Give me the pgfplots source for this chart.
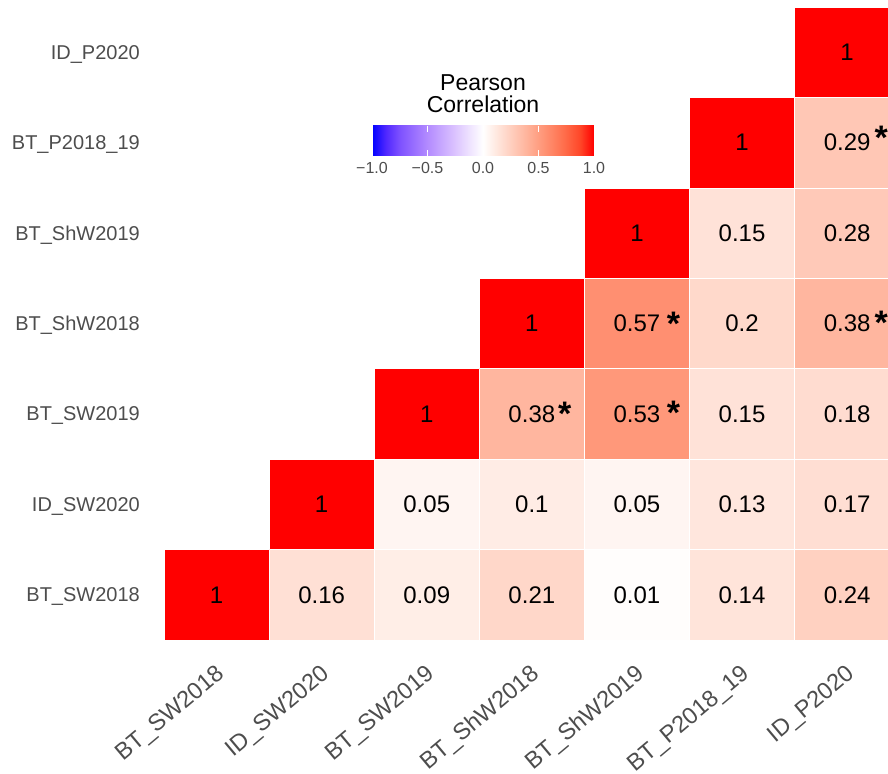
\documentclass[border=0pt]{standalone}
\usepackage{fontspec}
\setmainfont{Liberation Sans}
\usepackage{pgfplots}
\pgfplotsset{compat=1.18}
\usepackage{pgfplotstable}
\definecolor{grey30}{HTML}{4D4D4D}

% cell values (x = column, y = row from bottom)
\pgfplotstableread{
x y r
0 0 1
1 0 0.16
2 0 0.09
3 0 0.21
4 0 0.01
5 0 0.14
6 0 0.24
1 1 1
2 1 0.05
3 1 0.1
4 1 0.05
5 1 0.13
6 1 0.17
2 2 1
3 2 0.38
4 2 0.53
5 2 0.15
6 2 0.18
3 3 1
4 3 0.57
5 3 0.2
6 3 0.38
4 4 1
5 4 0.15
6 4 0.28
5 5 1
6 5 0.29
6 6 1
}\corr

% significant cells; dx, dy = offset of the asterisk from the cell centre (px)
\pgfplotstableread{
x y dx dy
3 2 33 6.5
4 2 36.5 7.5
4 3 36.5 6
6 3 34 7.6
6 5 34 11.7
}\sig

\begin{document}
\begin{tikzpicture}[x=1pt,y=1pt]
\begin{axis}[
  at={(164pt,133pt)}, anchor=south west,
  scale only axis, width=735.7pt, height=633pt,
  xmin=-0.5, xmax=6.5, ymin=-0.5, ymax=6.5,
  clip=false,
  axis line style={draw=none}, major tick style={draw=none},
  xtick={0,1,2,3,4,5,6}, ytick={0,1,2,3,4,5,6},
  xticklabels={BT\_SW2018,ID\_SW2020,BT\_SW2019,BT\_ShW2018,BT\_ShW2019,BT\_P2018\_19,ID\_P2020},
  yticklabels={BT\_SW2018,ID\_SW2020,BT\_SW2019,BT\_ShW2018,BT\_ShW2019,BT\_P2018\_19,ID\_P2020},
  xticklabel style={xshift=-2pt, yshift=-23pt, rotate=40, anchor=north east, inner sep=0pt,
    font=\fontsize{23.5}{27}\selectfont, text=grey30},
  yticklabel style={xshift=-24pt, anchor=east, inner sep=0pt, text depth=0pt,
    font=\fontsize{20}{24}\selectfont, text=grey30},
  colormap={pearson}{
    rgb255(0pt)=(0,0,255);
    rgb255(1pt)=(80,40,255);
    rgb255(2pt)=(126,81,255);
    rgb255(4pt)=(179,139,255);
    rgb255(6pt)=(220,196,255);
    rgb255(7pt)=(238,226,255);
    rgb255(8pt)=(255,255,255);
    rgb255(9pt)=(255,231,222);
    rgb255(10pt)=(255,207,191);
    rgb255(11pt)=(255,183,160);
    rgb255(12pt)=(255,158,129);
    rgb255(13pt)=(255,132,100);
    rgb255(14pt)=(255,104,70);
    rgb255(15pt)=(255,70,40);
    rgb255(16pt)=(255,0,0)
  },
  point meta min=-1, point meta max=1,
  colorbar horizontal,
  colorbar/width=30pt,
  colorbar style={
    at={(372pt,641pt)}, anchor=west,
    scale only axis, width=222pt, height=30pt,
    axis on top,
    axis line style={draw=none},
    xtick={-1,-0.5,0,0.5,1},
    xticklabels={−1.0,−0.5,0.0,0.5,1.0},
    xtick pos=both, xtick align=inside, major tick length=6pt,
    xtick style={draw=white, line width=1pt},
    xticklabel pos=lower,
    xticklabel style={font=\fontsize{16}{19}\selectfont, text=grey30, inner sep=0pt, anchor=north, yshift=-7pt},
    ytick=\empty,
  },
]
% heat-map tiles: one rectangle (4 corners) per cell, coloured by its value
\addplot[patch, patch type=rectangle, shader=faceted, faceted color=white, line width=0.6pt,
  point meta=explicit] coordinates {
(-0.5,-0.5)[1] (0.5,-0.5)[1] (0.5,0.5)[1] (-0.5,0.5)[1]
(0.5,-0.5)[0.16] (1.5,-0.5)[0.16] (1.5,0.5)[0.16] (0.5,0.5)[0.16]
(1.5,-0.5)[0.09] (2.5,-0.5)[0.09] (2.5,0.5)[0.09] (1.5,0.5)[0.09]
(2.5,-0.5)[0.21] (3.5,-0.5)[0.21] (3.5,0.5)[0.21] (2.5,0.5)[0.21]
(3.5,-0.5)[0.01] (4.5,-0.5)[0.01] (4.5,0.5)[0.01] (3.5,0.5)[0.01]
(4.5,-0.5)[0.14] (5.5,-0.5)[0.14] (5.5,0.5)[0.14] (4.5,0.5)[0.14]
(5.5,-0.5)[0.24] (6.5,-0.5)[0.24] (6.5,0.5)[0.24] (5.5,0.5)[0.24]
(0.5,0.5)[1] (1.5,0.5)[1] (1.5,1.5)[1] (0.5,1.5)[1]
(1.5,0.5)[0.05] (2.5,0.5)[0.05] (2.5,1.5)[0.05] (1.5,1.5)[0.05]
(2.5,0.5)[0.1] (3.5,0.5)[0.1] (3.5,1.5)[0.1] (2.5,1.5)[0.1]
(3.5,0.5)[0.05] (4.5,0.5)[0.05] (4.5,1.5)[0.05] (3.5,1.5)[0.05]
(4.5,0.5)[0.13] (5.5,0.5)[0.13] (5.5,1.5)[0.13] (4.5,1.5)[0.13]
(5.5,0.5)[0.17] (6.5,0.5)[0.17] (6.5,1.5)[0.17] (5.5,1.5)[0.17]
(1.5,1.5)[1] (2.5,1.5)[1] (2.5,2.5)[1] (1.5,2.5)[1]
(2.5,1.5)[0.38] (3.5,1.5)[0.38] (3.5,2.5)[0.38] (2.5,2.5)[0.38]
(3.5,1.5)[0.53] (4.5,1.5)[0.53] (4.5,2.5)[0.53] (3.5,2.5)[0.53]
(4.5,1.5)[0.15] (5.5,1.5)[0.15] (5.5,2.5)[0.15] (4.5,2.5)[0.15]
(5.5,1.5)[0.18] (6.5,1.5)[0.18] (6.5,2.5)[0.18] (5.5,2.5)[0.18]
(2.5,2.5)[1] (3.5,2.5)[1] (3.5,3.5)[1] (2.5,3.5)[1]
(3.5,2.5)[0.57] (4.5,2.5)[0.57] (4.5,3.5)[0.57] (3.5,3.5)[0.57]
(4.5,2.5)[0.2] (5.5,2.5)[0.2] (5.5,3.5)[0.2] (4.5,3.5)[0.2]
(5.5,2.5)[0.38] (6.5,2.5)[0.38] (6.5,3.5)[0.38] (5.5,3.5)[0.38]
(3.5,3.5)[1] (4.5,3.5)[1] (4.5,4.5)[1] (3.5,4.5)[1]
(4.5,3.5)[0.15] (5.5,3.5)[0.15] (5.5,4.5)[0.15] (4.5,4.5)[0.15]
(5.5,3.5)[0.28] (6.5,3.5)[0.28] (6.5,4.5)[0.28] (5.5,4.5)[0.28]
(4.5,4.5)[1] (5.5,4.5)[1] (5.5,5.5)[1] (4.5,5.5)[1]
(5.5,4.5)[0.29] (6.5,4.5)[0.29] (6.5,5.5)[0.29] (5.5,5.5)[0.29]
(5.5,5.5)[1] (6.5,5.5)[1] (6.5,6.5)[1] (5.5,6.5)[1]
};

% values written in the cells
\addplot[only marks, mark=none, point meta=explicit symbolic,
  nodes near coords,
  nodes near coords style={anchor=center, font=\fontsize{24}{28}\selectfont, text=black},
] table[x=x, y=y, meta=r]{\corr};

% significance asterisks
\addplot[only marks, mark=none,
  nodes near coords={\textbf{*}},
  nodes near coords style={anchor=center, yshift=-6.5pt,
    font=\fontsize{34}{34}\selectfont, text=black},
] table[x expr=\thisrow{x}+\thisrow{dx}/105.1, y expr=\thisrow{y}+\thisrow{dy}/90.43]{\sig};
\end{axis}
\node[font=\fontsize{23}{22}\selectfont, align=center, text=black] at (483,679) {Pearson\\Correlation};
\pgfresetboundingbox
\path[use as bounding box] (0,0) rectangle (888,773);
\end{tikzpicture}
\end{document}
